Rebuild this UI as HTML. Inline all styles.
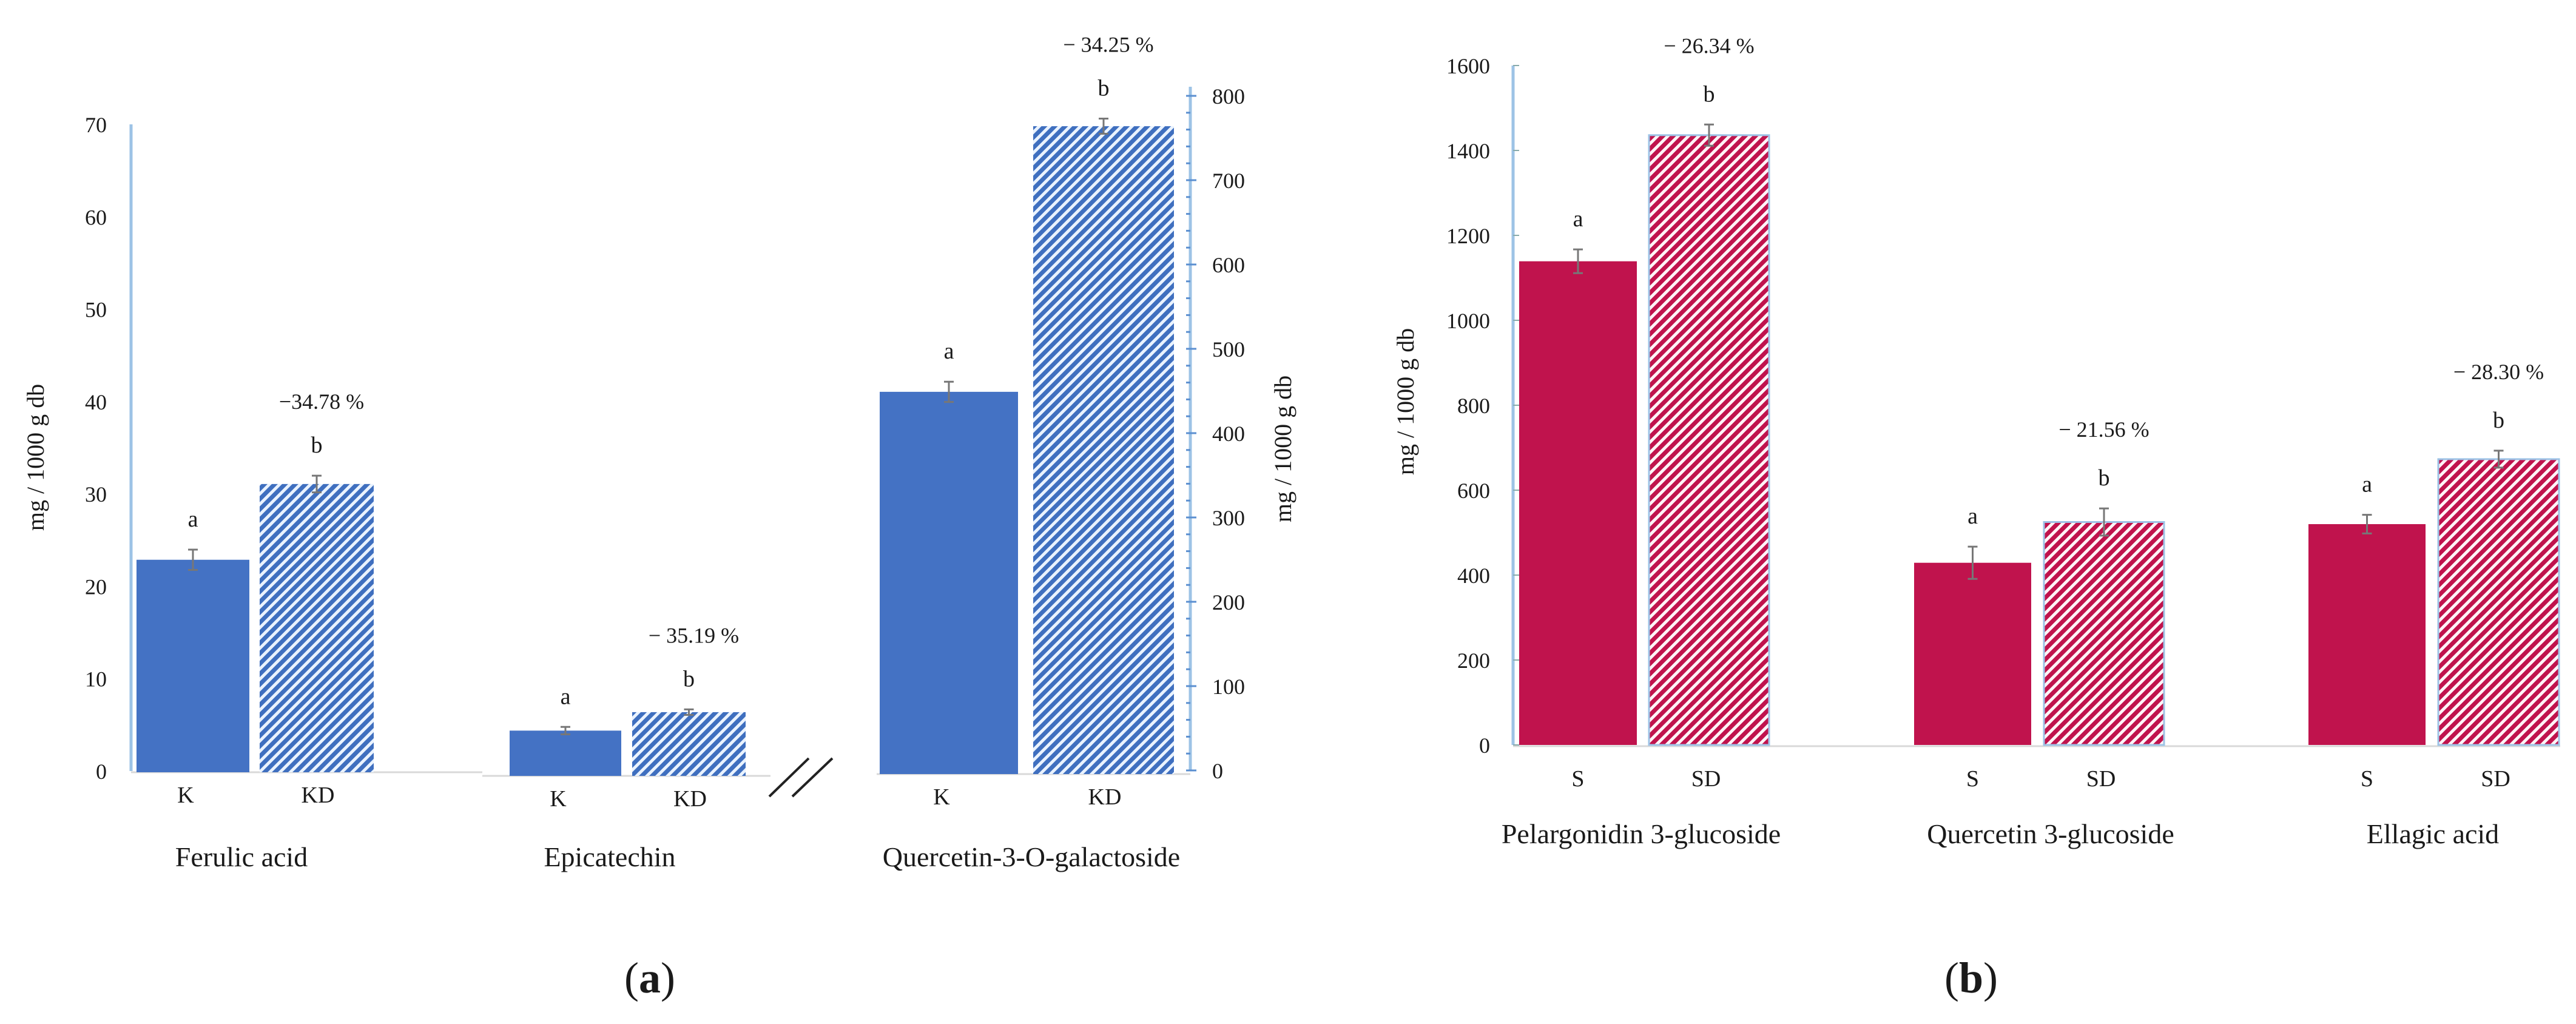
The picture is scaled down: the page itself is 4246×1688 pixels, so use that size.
<!DOCTYPE html>
<html><head><meta charset="utf-8"><style>
html,body{margin:0;padding:0;background:#fff;}
svg{display:block;}
text{font-family:"Liberation Serif",serif;fill:#1a1a1a;}
</style></head><body>
<svg id="chart" width="4246" height="1688" viewBox="0 0 4246 1688" xmlns="http://www.w3.org/2000/svg">
<defs>
<pattern id="hatchBlue" patternUnits="userSpaceOnUse" width="12" height="12" patternTransform="rotate(45)">
<rect width="12" height="12" fill="#3f6fbf"/><rect width="5" height="12" fill="#eaf3ff"/>
</pattern>
<pattern id="hatchRed" patternUnits="userSpaceOnUse" width="12" height="12" patternTransform="rotate(45)">
<rect width="12" height="12" fill="#c0134d"/><rect width="5" height="12" fill="#fff4f7"/>
</pattern>
</defs>
<g id="gA"></g>
<g id="gB"></g>
</svg>
<script>
// Panel (a) data
const catsA = ["Ferulic acid", "Epicatechin", "Quercetin-3-O-galactoside"];
const valsAK = [23, 4.9, 449];
const valsAKD = [31.2, 6.9, 764];
const errAK = [1.1, 0.4, 12];
const errAKD = [0.9, 0.3, 9];
const pctA = ["\u221234.78 %", "\u2212 35.19 %", "\u2212 34.25 %"];
const ticksAL = [0, 10, 20, 30, 40, 50, 60, 70];
const ticksAR = [0, 100, 200, 300, 400, 500, 600, 700, 800];
// Panel (b) data
const catsB = ["Pelargonidin 3-glucoside", "Quercetin 3-glucoside", "Ellagic acid"];
const valsBS = [1139, 429, 520];
const valsBSD = [1436, 525, 673];
const errBS = [28, 38, 22];
const errBSD = [25, 32, 20];
const pctB = ["\u2212 26.34 %", "\u2212 21.56 %", "\u2212 28.30 %"];
const ticksB = [0, 200, 400, 600, 800, 1000, 1200, 1400, 1600];

const NS = "http://www.w3.org/2000/svg";
function mk(parent, tag, attrs, txt) {
  const e = document.createElementNS(NS, tag);
  for (const k in attrs) e.setAttribute(k, attrs[k]);
  if (txt !== undefined) e.textContent = txt;
  parent.appendChild(e);
  return e;
}
const yAL = v => 1271 - v * (1271 - 205) / 70;
const yAR = v => 1270 - v * (1270 - 158) / 800;
const yB = v => 1228 - v * (1228 - 108) / 1600;

const gA = document.getElementById("gA");
const gB = document.getElementById("gB");

let ax = mk(gA, "line", {x1:216, y1:yAL(70), x2:216, y2:yAL(0), stroke:"#9dc3e6", "stroke-width":5});


ticksAL.forEach(t => {
  const tl = mk(gA, "text", {x:176, y:yAL(t)+13, "font-size":36, "text-anchor":"end"}, t);
  
  
});
let base1 = mk(gA, "line", {x1:216, y1:1273, x2:795, y2:1273, stroke:"#d9d9d9", "stroke-width":3});


let base2 = mk(gA, "line", {x1:795, y1:1279, x2:1270, y2:1279, stroke:"#d9d9d9", "stroke-width":3});


let base3 = mk(gA, "line", {x1:1445, y1:1276, x2:1962, y2:1276, stroke:"#d9d9d9", "stroke-width":3});


const brk = mk(gA, "g", {});


mk(brk, "line", {x1:1268, y1:1313, x2:1333, y2:1250, stroke:"#222", "stroke-width":4});
mk(brk, "line", {x1:1306, y1:1313, x2:1372, y2:1250, stroke:"#222", "stroke-width":4});

let axR = mk(gA, "line", {x1:1962, y1:yAR(800)-15, x2:1962, y2:yAR(0), stroke:"#9dc3e6", "stroke-width":5});


for (let v = 0; v <= 800; v += 20) {
  const tk = mk(gA, "line", {x1:1955, y1:yAR(v), x2:(v % 100 === 0 ? 1972 : 1962), y2:yAR(v), stroke:"#5b8fd0", "stroke-width":3});
  
  
}
ticksAR.forEach(t => {
  const tl = mk(gA, "text", {x:1998, y:yAR(t)+13, "font-size":36, "text-anchor":"start"}, t);
  
  
});
let ytA = mk(gA, "text", {x:0, y:0, "font-size":40, "text-anchor":"middle", transform:"translate(72,754) rotate(-90)"}, "mg / 1000 g db");


let ytA2 = mk(gA, "text", {x:0, y:0, "font-size":40, "text-anchor":"middle", transform:"translate(2128,740) rotate(-90)"}, "mg / 1000 g db");



const aK = [[225,411],[840,1024],[1450,1678]];
const aKD = [[428,616],[1042,1229],[1703,1935]];
const aBase = [1273, 1279, 1276];
function bar(g, x0, x1, ytop, ybase, fill, stroke, name) {
  const r = mk(g, "rect", {x:x0, y:ytop, width:x1-x0, height:ybase-ytop, fill:fill});
  if (stroke) { r.setAttribute("stroke", stroke); r.setAttribute("stroke-width", 3); }
  
  
}
function err(g, xc, yv, yHi, yLo) {
  const e = mk(g, "path", {d:`M${xc},${yLo}V${yHi}M${xc-8},${yHi}H${xc+8}M${xc-8},${yLo}H${xc+8}`, stroke:"#777", "stroke-width":3, fill:"none"});
  
  
}
function lbl(g, x, y, s, size, name) {
  const t = mk(g, "text", {x:x, y:y, "font-size":size, "text-anchor":"middle"}, s);
  
  
  return t;
}
catsA.forEach((c, i) => {
  const ys = i === 2 ? yAR : (v => yAL(v) + (aBase[i] - 1271));
  const b = aBase[i];
  bar(gA, aK[i][0], aK[i][1], ys(valsAK[i]), b, "#4472c4", null, "bar-k-" + i);
  bar(gA, aKD[i][0], aKD[i][1], ys(valsAKD[i]), b, "url(#hatchBlue)", null, "bar-kd-" + i);
  const xk = (aK[i][0] + aK[i][1]) / 2, xkd = (aKD[i][0] + aKD[i][1]) / 2;
  err(gA, xk, 0, ys(valsAK[i] + errAK[i]), ys(valsAK[i] - errAK[i]));
  err(gA, xkd, 0, ys(valsAKD[i] + errAKD[i]), ys(valsAKD[i] - errAKD[i]));
  lbl(gA, xk, ys(valsAK[i] + errAK[i]) - 38, "a", 38, "significance-a");
  lbl(gA, xkd, ys(valsAKD[i] + errAKD[i]) - 38, "b", 38, "significance-b");
  lbl(gA, xkd + 8, ys(valsAKD[i] + errAKD[i]) - 110, pctA[i], 36, "percent-change");
  lbl(gA, xk - 12, b + 50, "K", 38, "x-label-k");
  lbl(gA, xkd + 2, b + 50, "KD", 38, "x-label-kd");
  lbl(gA, [398, 1005, 1700][i], 1428, c, 46, "category-label");
});
const pa = lbl(gA, 1071, 1636, "", 72, "panel-label-a");
mk(pa, "tspan", {}, "(");
mk(pa, "tspan", {"font-weight":"bold"}, "a");
mk(pa, "tspan", {}, ")");

let axB = mk(gB, "line", {x1:2494, y1:yB(1600), x2:2494, y2:yB(0), stroke:"#9dc3e6", "stroke-width":5});


let baseB = mk(gB, "line", {x1:2494, y1:1230, x2:4220, y2:1230, stroke:"#d9d9d9", "stroke-width":3});


ticksB.forEach(t => {
  const tl = mk(gB, "text", {x:2456, y:yB(t)+13, "font-size":36, "text-anchor":"end"}, t);
  
  
  const tk = mk(gB, "line", {x1:2494, y1:yB(t), x2:2504, y2:yB(t), stroke:"#8aa", "stroke-width":2});
  
  
});
let ytB = mk(gB, "text", {x:0, y:0, "font-size":40, "text-anchor":"middle", transform:"translate(2330,662) rotate(-90)"}, "mg / 1000 g db");


const bS = [[2504,2698],[3155,3348],[3805,3998]];
const bSD = [[2718,2916],[3369,3567],[4019,4218]];
catsB.forEach((c, i) => {
  bar(gB, bS[i][0], bS[i][1], yB(valsBS[i]), 1228, "#c0134d", null, "bar-s-" + i);
  bar(gB, bSD[i][0], bSD[i][1], yB(valsBSD[i]), 1228, "url(#hatchRed)", "#9dc3e6", "bar-sd-" + i);
  const xs = (bS[i][0] + bS[i][1]) / 2, xsd = (bSD[i][0] + bSD[i][1]) / 2;
  err(gB, xs, 0, yB(valsBS[i] + errBS[i]), yB(valsBS[i] - errBS[i]));
  err(gB, xsd, 0, yB(valsBSD[i] + errBSD[i]), yB(valsBSD[i] - errBSD[i]));
  lbl(gB, xs, yB(valsBS[i] + errBS[i]) - 38, "a", 38, "significance-a");
  lbl(gB, xsd, yB(valsBSD[i] + errBSD[i]) - 38, "b", 38, "significance-b");
  lbl(gB, xsd, yB(valsBSD[i] + errBSD[i]) - 118, pctB[i], 36, "percent-change");
  lbl(gB, xs, 1296, "S", 38, "x-label-s");
  lbl(gB, xsd - 5, 1296, "SD", 38, "x-label-sd");
  lbl(gB, [2705, 3380, 4010][i], 1390, c, 46, "category-label");
});
const pb = lbl(gB, 3249, 1636, "", 72, "panel-label-b");
mk(pb, "tspan", {}, "(");
mk(pb, "tspan", {"font-weight":"bold"}, "b");
mk(pb, "tspan", {}, ")");
</script>
</body></html>
